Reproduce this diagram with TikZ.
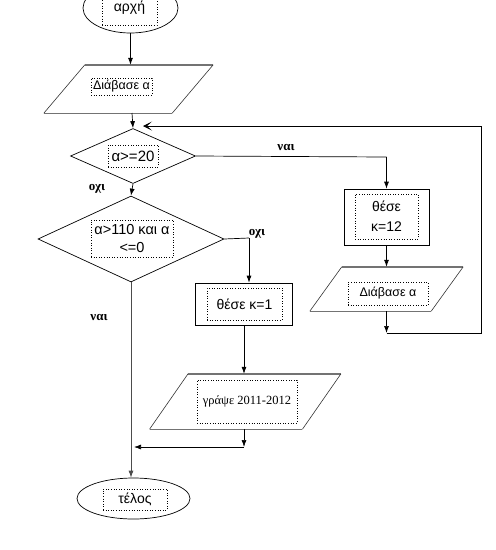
\documentclass[tikz,border=0pt]{standalone}
\usepackage{fontspec}
\setmainfont{Liberation Sans}
\newfontfamily\serifgr{Liberation Serif}
\usetikzlibrary{shapes.geometric,arrows.meta,calc}
\begin{document}
\begin{tikzpicture}[x=1pt,y=-1pt,
  shp/.style={draw=black,line width=0.7pt,inner sep=0pt},
  ell/.style={shp,ellipse},
  dia/.style={shp,diamond},
  rectbox/.style={shp,rectangle},
  parabox/.style={rectangle,inner sep=0pt,draw=none},
  paraedge/.style={draw=black!55,line width=1.4pt},
  paraside/.style={draw=black!80,line width=0.6pt},
  txt/.style={draw=black,dotted,line width=0.6pt,inner sep=0pt,align=center,font=\fontsize{12.5}{14}\selectfont},
  lbl/.style={font=\serifgr\bfseries\fontsize{13}{15}\selectfont,inner sep=0pt},
  arr/.style={draw=black,line width=0.7pt,-{Latex[length=7pt,width=5pt]}},
  ln/.style={draw=black,line width=0.7pt},
  looparr/.style={draw=black,line width=0.7pt,-{Stealth[length=9pt,width=9pt,inset=5pt]}}
]
\useasboundingbox (0,0) rectangle (496,550);
% start
\node[ell,minimum width=95,minimum height=50] (start) at (130.5,8) {};
\node[txt,minimum width=55,minimum height=34,font=\fontsize{14}{16}\selectfont] (startt) at (129.5,8) {αρχή};
% read 1
\node[parabox,minimum width=128,minimum height=48] (p1) at (128.5,89) {};
\draw[paraedge] ([xshift=20.5pt]p1.north west) -- ([xshift=20.5pt]p1.north east);
\draw[paraedge] ([xshift=-20.5pt]p1.south west) -- ([xshift=-20.5pt]p1.south east);
\draw[paraside] ([xshift=20.5pt]p1.north west) -- ([xshift=-20.5pt]p1.south west);
\draw[paraside] ([xshift=20.5pt]p1.north east) -- ([xshift=-20.5pt]p1.south east);
\node[txt,minimum width=61,minimum height=17] (p1t) at (121.5,86.5) {Διάβασε α};
% decision 1
\node[dia,minimum width=125,minimum height=55] (d1) at (133,156) {};
\node[txt,minimum width=50,minimum height=22,font=\fontsize{15}{17}\selectfont] (d1t) at (133,156) {α>=20};
% decision 2
\node[dia,minimum width=186,minimum height=86] (d2) at (131,239) {};
\node[txt,minimum width=82,minimum height=37,font=\fontsize{14.5}{18}\selectfont] (d2t) at (132,238.5) {α>110 και α\\<=0};
% set k=12
\node[rectbox,minimum width=85,minimum height=56] (k12) at (386.5,217) {};
\node[txt,minimum width=63,minimum height=45,font=\fontsize{14}{20}\selectfont] (k12t) at (386.5,216.5) {θέσε\\κ=12};
% read 2
\node[parabox,minimum width=121,minimum height=44] (p3) at (386.5,289) {};
\draw[paraedge] ([xshift=16pt]p3.north west) -- ([xshift=16pt]p3.north east);
\draw[paraedge] ([xshift=-16pt]p3.south west) -- ([xshift=-16pt]p3.south east);
\draw[paraside] ([xshift=16pt]p3.north west) -- ([xshift=-16pt]p3.south west);
\draw[paraside] ([xshift=16pt]p3.north east) -- ([xshift=-16pt]p3.south east);
\node[txt,minimum width=80,minimum height=23] (p3t) at (388,293.5) {Διάβασε α};
% set k=1
\node[rectbox,minimum width=97,minimum height=42] (k1) at (243.5,304) {};
\node[txt,minimum width=75,minimum height=32,font=\fontsize{14}{16}\selectfont] (k1t) at (244.5,304) {θέσε κ=1};
% write
\node[parabox,minimum width=152.5,minimum height=55] (p2) at (245.25,401.5) {};
\draw[paraedge] ([xshift=19.25pt]p2.north west) -- ([xshift=19.25pt]p2.north east);
\draw[paraedge] ([xshift=-19.25pt]p2.south west) -- ([xshift=-19.25pt]p2.south east);
\draw[paraside] ([xshift=19.25pt]p2.north west) -- ([xshift=-19.25pt]p2.south west);
\draw[paraside] ([xshift=19.25pt]p2.north east) -- ([xshift=-19.25pt]p2.south east);
\node[txt,minimum width=100,minimum height=43,font=\serifgr\fontsize{12.5}{14}\selectfont] (p2t) at (247,401.5) {γράψε 2011-2012};
% end
\node[ell,minimum width=113,minimum height=41] (end) at (133.5,498.5) {};
\node[txt,minimum width=64,minimum height=21,font=\fontsize{14}{16}\selectfont] (endt) at (135,499.5) {τέλος};
% coordinates
\coordinate (c1) at (386.5,333);
\coordinate (c2) at (481,333);
\coordinate (c3) at (481,126);
\coordinate (c4) at (143,126);
\coordinate (r1) at (386.5,157);
\coordinate (r2) at (249,238);
\coordinate (w1) at (244,447);
\coordinate (w2) at (134,447);
% connectors
\draw[arr] (start.south) -- (start.south |- p1.north);
\draw[arr] (132,113) -- (d1.north);
\draw[arr] (d1.south) -- (d2.north);
\draw[ln] (d1.east) -- (r1);
\draw[arr] (r1) -- (k12.north);
\draw[arr] (k12.south) -- (p3.north);
\draw[arr] (p3.south) -- (c1);
\draw[ln] (c1) -- (c2) -- (c3);
\draw[looparr] (c3) -- (c4);
\draw[ln] (d2.east) -- (r2);
\draw[arr] (r2) -- (r2 |- k1.north);
\draw[arr] (k1.south -| w1) -- (w1 |- p2.north);
\draw[arr] (w1 |- p2.south) -- (w1);
\draw[arr] (w1) -- (w2);
\draw[arr,draw=black!70] (d2.south) -- (d2.south |- end.north);
% labels
\node[lbl] (l1) at (97,189) {οχι};
\node[lbl] (l2) at (286,147) {ναι};
\node[lbl] (l3) at (257,234) {οχι};
\node[lbl] (l4) at (99,317) {ναι};
\end{tikzpicture}
\end{document}
